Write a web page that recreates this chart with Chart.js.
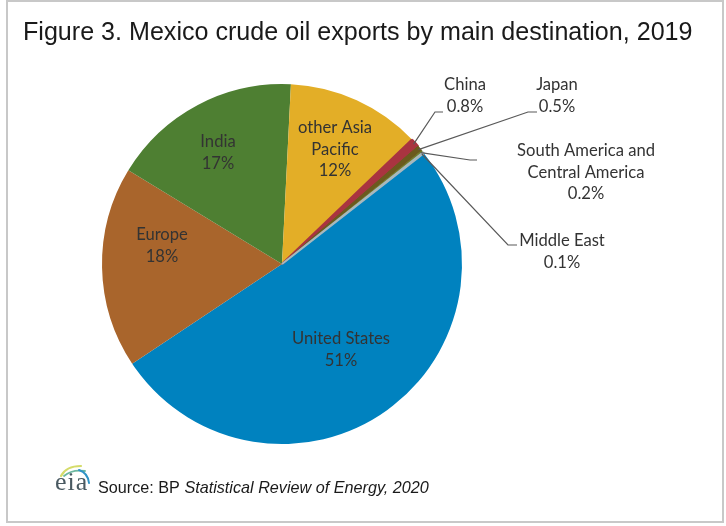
<!DOCTYPE html>
<html>
<head>
<meta charset="utf-8">
<script src="https://cdn.jsdelivr.net/npm/chart.js@4"></script>
<style>
  html, body { margin: 0; padding: 0; background: #fff; }
  canvas { display: block; }
</style>
</head>
<body>
<canvas id="chart1" width="726" height="526"></canvas>
<script>
const categories = ['United States', 'Europe', 'India', 'other Asia Pacific', 'China', 'Japan', 'South America and Central America', 'Middle East'];
const shares = [51, 18, 17, 12, 0.8, 0.5, 0.2, 0.1];
const sliceColors = ['#0082bf', '#a9652c', '#4e7f32', '#e3ae27', '#a93440', '#6b5a1e', '#6f7a2a', '#a8b8bd'];
// the thin slices get an outline in their own colour, they look wider in the original
const sliceBorders = [0, 0, 0, 0, 2, 1, 0.5, 2];

const titleText = 'Figure 3. Mexico crude oil exports by main destination, 2019';

// where each label goes: text lines, centre x, first baseline y
const labelLayout = [
    { lines: ['United States', '51%'], x: 341, y: 344 },
    { lines: ['Europe', '18%'], x: 162, y: 240 },
    { lines: ['India', '17%'], x: 218, y: 147 },
    { lines: ['other Asia', 'Pacific', '12%'], x: 335, y: 133 },
    { lines: ['China', '0.8%'], x: 465, y: 90 },
    { lines: ['Japan', '0.5%'], x: 557, y: 90 },
    { lines: ['South America and', 'Central America', '0.2%'], x: 586, y: 156 },
    { lines: ['Middle East', '0.1%'], x: 562, y: 246 }
];

// leader lines for the thin slices: slice index, then elbow and end
const leaders = [
    { slice: 4, points: [[435, 112], [443, 112]] },
    { slice: 5, points: [[528, 112], [537, 112]] },
    { slice: 6, points: [[470, 160], [477, 160]] },
    { slice: 7, points: [[508, 245], [517, 245]] }
];

const labelFont = '16.6px Lato, "Open Sans", sans-serif';

function swoosh(ctx, color, width, x0, y0, cx, cy, x1, y1) {
    ctx.strokeStyle = color;
    ctx.lineWidth = width;
    ctx.beginPath();
    ctx.moveTo(x0, y0);
    ctx.quadraticCurveTo(cx, cy, x1, y1);
    ctx.stroke();
}

const decorations = {
    id: 'decorations',
    afterDraw(chart) {
        const ctx = chart.ctx;
        ctx.save();

        // outer frame
        ctx.strokeStyle = '#c8c8c8';
        ctx.lineWidth = 2;
        ctx.strokeRect(7, 1, 716, 521);

        // title
        ctx.fillStyle = '#1a1a1a';
        ctx.font = '25.1px "Liberation Sans", Arial, sans-serif';
        ctx.textAlign = 'left';
        ctx.textBaseline = 'alphabetic';
        ctx.fillText(titleText, 23, 40);

        // leader lines
        const arcs = chart.getDatasetMeta(0).data;
        ctx.strokeStyle = '#595959';
        ctx.lineWidth = 1.2;
        leaders.forEach(l => {
            const arc = arcs[l.slice];
            const mid = (arc.startAngle + arc.endAngle) / 2;
            ctx.beginPath();
            ctx.moveTo(arc.x + Math.cos(mid) * (arc.outerRadius - 2), arc.y + Math.sin(mid) * (arc.outerRadius - 2));
            l.points.forEach(p => ctx.lineTo(p[0], p[1]));
            ctx.stroke();
        });

        // slice labels
        ctx.font = labelFont;
        ctx.fillStyle = '#333333';
        ctx.textAlign = 'center';
        labelLayout.forEach(lab => {
            lab.lines.forEach((line, i) => ctx.fillText(line, lab.x, lab.y + i * 21.7));
        });

        // source line
        ctx.fillStyle = '#1a1a1a';
        ctx.textAlign = 'left';
        ctx.font = '16.2px "Liberation Sans", Arial, sans-serif';
        ctx.fillText('Source: BP ', 98, 493);
        const w = ctx.measureText('Source: BP ').width;
        ctx.font = 'italic 16.2px "Liberation Sans", Arial, sans-serif';
        ctx.fillText('Statistical Review of Energy, 2020', 98 + w, 493);

        // eia logo
        ctx.fillStyle = '#4a5a62';
        ctx.font = '26px "Liberation Serif", serif';
        ctx.letterSpacing = '1px';
        ctx.fillText('eia', 55, 490);
        ctx.letterSpacing = '0px';
        ctx.lineCap = 'round';
        swoosh(ctx, '#d5dc6a', 2.2, 61, 476, 66, 466, 81, 466);
        swoosh(ctx, '#6cb8a0', 1.8, 64, 476, 72, 469, 85, 471);
        swoosh(ctx, '#2f93c6', 2, 79, 470, 88, 473, 89, 483);

        ctx.restore();
    }
};

new Chart(document.getElementById('chart1').getContext('2d'), {
    type: 'pie',
    data: {
        labels: categories,
        datasets: [{
            data: shares,
            backgroundColor: sliceColors,
            borderColor: sliceColors,
            borderWidth: sliceBorders
        }]
    },
    options: {
        responsive: false,
        animation: false,
        rotation: 52,
        layout: { padding: { left: 101, top: 83, right: 263, bottom: 81 } },
        plugins: {
            legend: { display: false },
            title: { display: false },
            tooltip: { enabled: false }
        }
    },
    plugins: [decorations]
});
</script>
</body>
</html>
